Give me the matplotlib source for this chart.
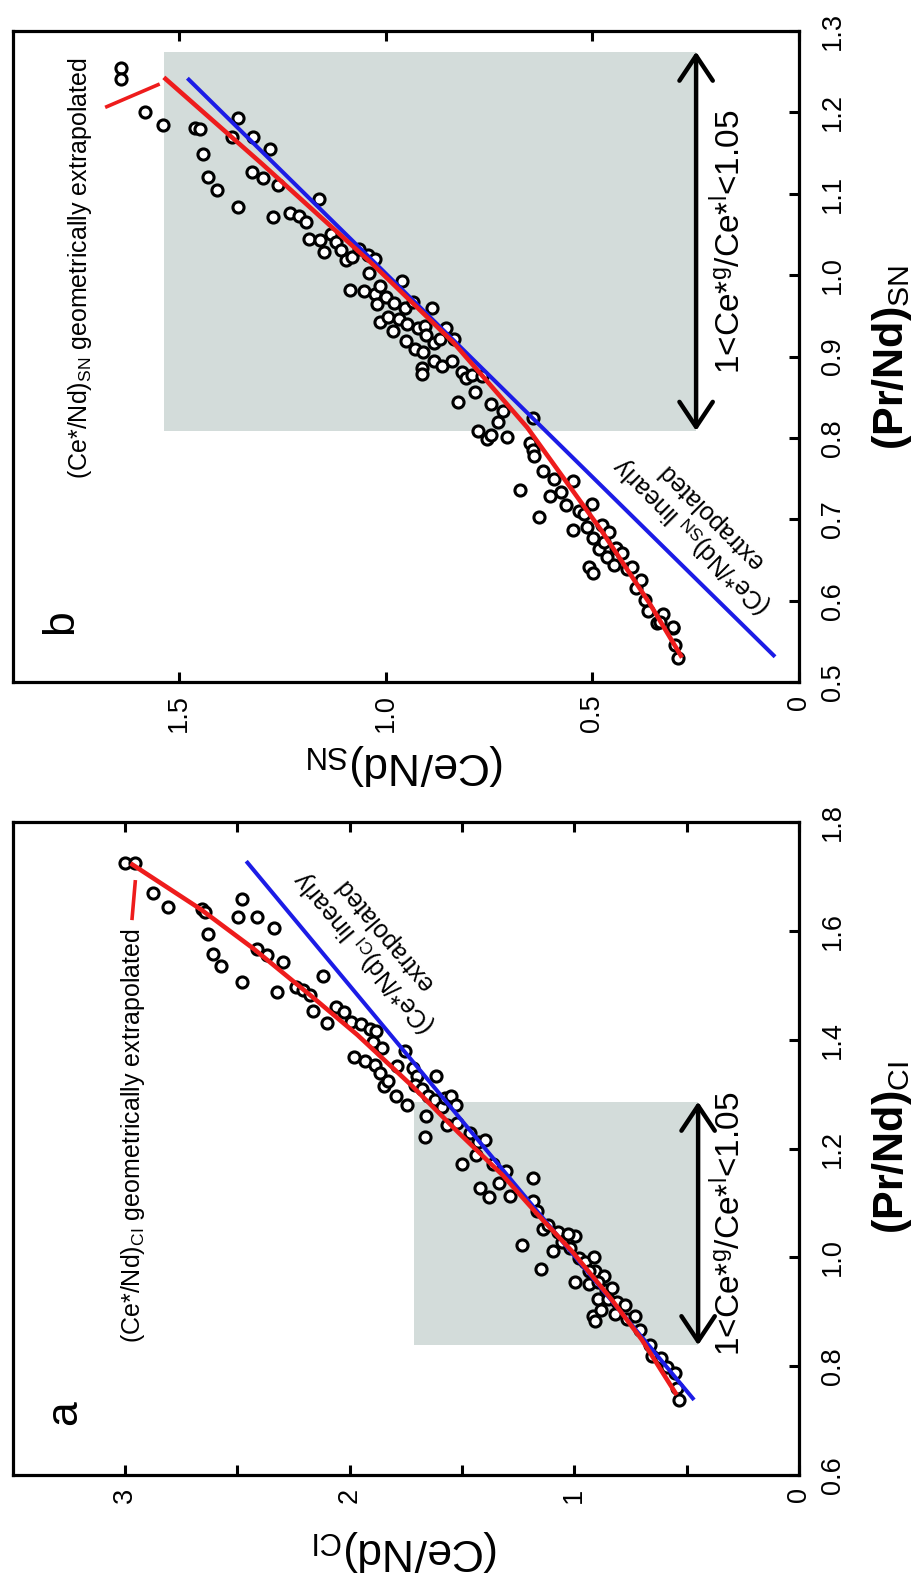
import matplotlib
matplotlib.use("Agg")
import matplotlib.pyplot as plt
from matplotlib.patches import Rectangle

plt.rcParams['font.family'] = ['Liberation Sans', 'DejaVu Sans']
plt.rcParams['mathtext.fontset'] = 'custom'
plt.rcParams['mathtext.rm'] = 'Liberation Sans'
plt.rcParams['mathtext.it'] = 'Liberation Sans:italic'
plt.rcParams['mathtext.bf'] = 'Liberation Sans:bold'

# ---------------- data: panel a (CI normalised) ----------------
ce_a = [3.00, 2.955, 2.877, 2.809, 2.656, 2.644, 2.630, 2.608, 2.571, 2.477, 2.497, 2.414,
        2.336, 2.412, 2.366, 2.298, 2.477, 2.324, 2.238, 2.208, 2.175, 2.119, 2.162, 2.102,
        2.060, 2.026, 1.992, 1.949, 1.910, 1.881, 1.980, 1.932, 1.898, 1.889, 1.855, 1.847,
        1.864, 1.830, 1.795, 1.753, 1.787, 1.745, 1.719, 1.702, 1.711, 1.676, 1.660, 1.663,
        1.651, 1.617, 1.622, 1.591, 1.574, 1.549, 1.527, 1.566, 1.523, 1.498, 1.464, 1.430,
        1.396, 1.438, 1.421, 1.378, 1.361, 1.336, 1.302, 1.288, 1.234, 1.183, 1.183, 1.166,
        1.149, 1.140, 1.115, 1.097, 1.072, 1.055, 1.021, 0.995, 0.995, 0.978, 0.953, 0.936,
        0.913, 0.910, 0.893, 0.919, 0.910, 0.880, 0.868, 0.859, 0.850, 0.833, 0.817, 0.808,
        0.774, 0.765, 0.731, 0.706, 0.663, 0.655, 0.612, 0.587, 0.552, 0.544, 0.535, 0.935,
        0.893, 1.029]
pr_a = [1.724, 1.724, 1.669, 1.644, 1.640, 1.635, 1.595, 1.558, 1.536, 1.658, 1.626, 1.625,
        1.605, 1.567, 1.555, 1.543, 1.506, 1.488, 1.497, 1.492, 1.483, 1.517, 1.453, 1.431,
        1.460, 1.450, 1.433, 1.429, 1.419, 1.416, 1.368, 1.361, 1.395, 1.354, 1.385, 1.314,
        1.338, 1.324, 1.297, 1.380, 1.351, 1.280, 1.348, 1.334, 1.317, 1.310, 1.259, 1.222,
        1.297, 1.333, 1.290, 1.276, 1.293, 1.297, 1.280, 1.243, 1.246, 1.171, 1.229, 1.212,
        1.215, 1.188, 1.127, 1.110, 1.171, 1.137, 1.158, 1.112, 1.022, 1.146, 1.103, 1.086,
        0.978, 1.052, 1.059, 1.012, 1.046, 1.029, 1.018, 1.039, 0.954, 0.998, 0.991, 0.951,
        1.001, 0.974, 0.923, 0.893, 0.883, 0.903, 0.966, 0.940, 0.923, 0.944, 0.896, 0.917,
        0.913, 0.886, 0.893, 0.866, 0.839, 0.818, 0.815, 0.798, 0.788, 0.760, 0.737, 0.974,
        0.954, 1.042]

# geometric (red) and linear (blue) extrapolation curves, panel a
geo_pr_a = [0.747, 0.849, 0.923, 1.012, 1.080, 1.151, 1.229, 1.317, 1.409, 1.480, 1.568, 1.640, 1.724]
geo_ce_a = [0.544, 0.700, 0.835, 1.012, 1.166, 1.319, 1.515, 1.727, 1.966, 2.170, 2.430, 2.664, 2.975]
lin_pr_a = [0.738, 1.728]
lin_ce_a = [0.467, 2.460]

# ---------------- data: panel b (SN normalised) ----------------
ce_b = [1.640, 1.640, 1.582, 1.540, 1.462, 1.449, 1.358, 1.371, 1.322, 1.279, 1.442, 1.430,
        1.409, 1.324, 1.298, 1.261, 1.358, 1.272, 1.162, 1.231, 1.211, 1.194, 1.185, 1.160,
        1.149, 1.132, 1.121, 1.108, 1.096, 1.082, 1.064, 1.043, 1.027, 1.086, 1.053, 1.041,
        1.027, 1.021, 1.013, 1.000, 1.013, 0.995, 0.979, 0.961, 0.982, 0.969, 0.954, 0.948,
        0.935, 0.952, 0.930, 0.922, 0.905, 0.903, 0.887, 0.883, 0.913, 0.913, 0.909, 0.883,
        0.863, 0.853, 0.868, 0.836, 0.840, 0.825, 0.816, 0.805, 0.792, 0.785, 0.766, 0.746,
        0.777, 0.756, 0.745, 0.728, 0.716, 0.706, 0.644, 0.650, 0.644, 0.641, 0.676, 0.628,
        0.619, 0.602, 0.594, 0.576, 0.546, 0.563, 0.546, 0.533, 0.520, 0.500, 0.512, 0.498,
        0.507, 0.498, 0.485, 0.477, 0.473, 0.460, 0.464, 0.447, 0.442, 0.429, 0.416, 0.403,
        0.395, 0.382, 0.373, 0.365, 0.343, 0.330, 0.304, 0.300, 0.293, 0.305, 0.336]
pr_b = [1.255, 1.241, 1.200, 1.184, 1.181, 1.179, 1.193, 1.170, 1.170, 1.155, 1.149, 1.121,
        1.105, 1.127, 1.119, 1.111, 1.084, 1.072, 1.093, 1.076, 1.073, 1.065, 1.045, 1.043,
        1.028, 1.050, 1.041, 1.031, 1.018, 1.022, 1.032, 1.025, 1.020, 0.982, 0.980, 1.003,
        0.977, 0.965, 0.987, 0.973, 0.942, 0.949, 0.966, 0.993, 0.931, 0.946, 0.959, 0.940,
        0.967, 0.919, 0.909, 0.935, 0.938, 0.926, 0.959, 0.917, 0.886, 0.878, 0.905, 0.895,
        0.888, 0.935, 0.921, 0.922, 0.895, 0.844, 0.881, 0.874, 0.877, 0.856, 0.876, 0.842,
        0.809, 0.799, 0.804, 0.819, 0.833, 0.801, 0.825, 0.794, 0.785, 0.778, 0.736, 0.703,
        0.759, 0.728, 0.750, 0.733, 0.747, 0.717, 0.687, 0.710, 0.707, 0.719, 0.691, 0.677,
        0.641, 0.634, 0.663, 0.693, 0.672, 0.684, 0.653, 0.644, 0.665, 0.658, 0.639, 0.641,
        0.616, 0.625, 0.601, 0.587, 0.573, 0.583, 0.566, 0.545, 0.529, 0.567, 0.574]

geo_pr_b = [0.530, 0.597, 0.686, 0.813, 0.917, 1.015, 1.137, 1.243]
geo_ce_b = [0.283, 0.362, 0.478, 0.658, 0.836, 1.035, 1.300, 1.537]
lin_pr_b = [0.531, 1.242]
lin_ce_b = [0.058, 1.480]

# shaded ranges where 1 < Ce*g/Ce*l < 1.05
box_a_ce = [0.449, 1.713]
box_a_pr = [0.8385, 1.286]
box_b_ce = [0.249, 1.537]
box_b_pr = [0.8086, 1.2746]

# leader lines for the "geometrically extrapolated" labels
lead_a_ce = [2.954, 2.968]
lead_a_pr = [1.690, 1.623]
lead_b_ce = [1.551, 1.675]
lead_b_pr = [1.234, 1.207]

xticks_a = [0, 0.5, 1.0, 1.5, 2.0, 2.5, 3.0]
xticklabels_a = ['0', '', '1', '', '2', '', '3']
yticks_a = [0.6, 0.8, 1.0, 1.2, 1.4, 1.6, 1.8]
yticklabels_a = ['0.6', '0.8', '1.0', '1.2', '1.4', '1.6', '1.8']
xticks_b = [0, 0.5, 1.0, 1.5]
xticklabels_b = ['0', '0.5', '1.0', '1.5']
yticks_b = [0.5, 0.6, 0.7, 0.8, 0.9, 1.0, 1.1, 1.2, 1.3]
yticklabels_b = ['0.5', '0.6', '0.7', '0.8', '0.9', '1.0', '1.1', '1.2', '1.3']

W, H = 918, 1579
fig = plt.figure(figsize=(W / 100, H / 100), dpi=100)

def fx(px):
    return px / W

def fy(py):
    return 1 - py / H

RED = '#ee1c1c'
BLUE = '#1c1ce6'
GRAY = '#d3dcda'


def make_panel(rect, xlim, ylim, xt, xtl, yt, ytl):
    ax = fig.add_axes(rect)
    ax.set_xlim(*xlim)
    ax.set_ylim(*ylim)
    for s in ax.spines.values():
        s.set_linewidth(2.3)
    ax.set_xticks(xt)
    ax.set_xticklabels(xtl)
    ax.set_yticks(yt)
    ax.set_yticklabels(ytl)
    ax.tick_params(axis='x', which='both', direction='in', top=True, bottom=True,
                   length=7.5, width=2.2, labelsize=19.5, pad=9, labelrotation=90)
    ax.tick_params(axis='y', which='both', direction='in', left=False, right=True,
                   labelleft=False, labelright=True, length=7.5, width=2.2,
                   labelsize=19.5, pad=15, labelrotation=90)
    for lbl in ax.get_yticklabels():
        lbl.set_va('center')
        lbl.set_ha('left')
    for lbl in ax.get_xticklabels():
        lbl.set_ha('center')
        lbl.set_va('top')
    return ax


# ---------------- panel b (top) ----------------
axb = make_panel([fx(13), fy(682), fx(799) - fx(13), fy(31) - fy(682)],
                 (1.902, 0), (0.5, 1.3), xticks_b, xticklabels_b, yticks_b, yticklabels_b)
axb.add_patch(Rectangle((box_b_ce[0], box_b_pr[0]), box_b_ce[1] - box_b_ce[0],
                        box_b_pr[1] - box_b_pr[0], facecolor=GRAY, edgecolor='none', zorder=0))
axb.plot(ce_b, pr_b, 'o', mfc='white', mec='black', ms=8.0, mew=2.2, ls='none', zorder=3)
axb.plot(lin_ce_b, lin_pr_b, color=BLUE, lw=2.9, zorder=4, solid_capstyle='butt')
axb.plot(geo_ce_b, geo_pr_b, color=RED, lw=3.3, zorder=5, solid_capstyle='butt')
axb.plot(lead_b_ce, lead_b_pr, color=RED, lw=2.6, zorder=5)
axb.annotate('', xy=(box_b_ce[0], box_b_pr[1]), xytext=(box_b_ce[0], box_b_pr[0]),
             arrowprops=dict(arrowstyle='<->,head_length=0.9,head_width=0.6',
                             lw=3.2, color='black', mutation_scale=20,
                             shrinkA=0, shrinkB=0), zorder=6)
axb.text(0.169, 1.041, r'1<Ce*$^{\rm g}$/Ce*$^{\rm l}$<1.05', rotation=90,
         ha='center', va='center', fontsize=24)
axb.text(1.740, 1.009, r'(Ce*/Nd)$_{\rm SN}$ geometrically extrapolated', rotation=90,
         ha='center', va='center', fontsize=18)
axb.text(0.237, 0.691, '(Ce*/Nd)$_{\\rm SN}$ linearly\nextrapolated', rotation=135,
         ha='center', va='center', multialignment='center', fontsize=18, linespacing=1.05)
axb.text(1.786, 0.574, 'b', rotation=90, ha='center', va='center', fontsize=32)

# ---------------- panel a (bottom) ----------------
axa = make_panel([fx(13), fy(1475), fx(799) - fx(13), fy(822) - fy(1475)],
                 (3.498, 0), (0.6, 1.8), xticks_a, xticklabels_a, yticks_a, yticklabels_a)
axa.add_patch(Rectangle((box_a_ce[0], box_a_pr[0]), box_a_ce[1] - box_a_ce[0],
                        box_a_pr[1] - box_a_pr[0], facecolor=GRAY, edgecolor='none', zorder=0))
axa.plot(ce_a, pr_a, 'o', mfc='white', mec='black', ms=8.0, mew=2.2, ls='none', zorder=3)
axa.plot(lin_ce_a, lin_pr_a, color=BLUE, lw=2.9, zorder=4, solid_capstyle='butt')
axa.plot(geo_ce_a, geo_pr_a, color=RED, lw=3.3, zorder=5, solid_capstyle='butt')
axa.plot(lead_a_ce, lead_a_pr, color=RED, lw=2.6, zorder=5)
axa.annotate('', xy=(box_a_ce[0], box_a_pr[1]), xytext=(box_a_ce[0], box_a_pr[0]),
             arrowprops=dict(arrowstyle='<->,head_length=0.9,head_width=0.6',
                             lw=3.2, color='black', mutation_scale=20,
                             shrinkA=0, shrinkB=0), zorder=6)
axa.text(0.312, 1.062, r'1<Ce*$^{\rm g}$/Ce*$^{\rm l}$<1.05', rotation=90,
         ha='center', va='center', fontsize=24)
axa.text(2.965, 1.224, r'(Ce*/Nd)$_{\rm CI}$ geometrically extrapolated', rotation=90,
         ha='center', va='center', fontsize=18)
axa.text(1.891, 1.576, '(Ce*/Nd)$_{\\rm CI}$ linearly\nextrapolated', rotation=130,
         ha='center', va='center', multialignment='center', fontsize=18, linespacing=1.05)
axa.text(3.267, 0.714, 'a', rotation=90, ha='center', va='center', fontsize=32)

# ---------------- axis titles ----------------
fig.text(fx(892), fy(357), r'$\mathbf{(Pr/Nd)}_{\rm SN}$', rotation=90,
         ha='center', va='center', fontsize=31)
fig.text(fx(892), fy(1148), r'$\mathbf{(Pr/Nd)}_{\rm CI}$', rotation=90,
         ha='center', va='center', fontsize=31)
fig.text(fx(406), fy(765), r'(Ce/Nd)$_{\rm SN}$', rotation=180,
         ha='center', va='center', fontsize=32)
fig.text(fx(406), fy(1550), r'(Ce/Nd)$_{\rm CI}$', rotation=180,
         ha='center', va='center', fontsize=32)

fig.savefig('out.png', dpi=100)
